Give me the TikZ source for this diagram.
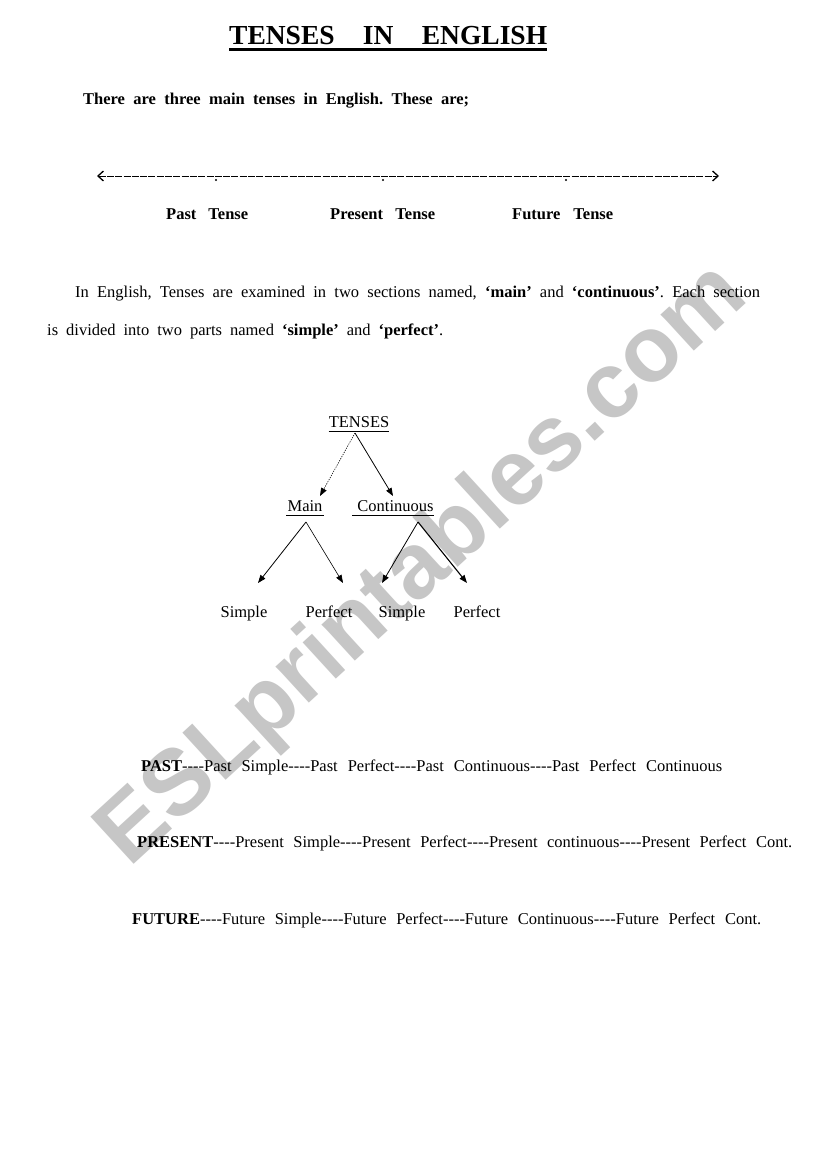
\documentclass[tikz,border=0pt]{standalone}
\usepackage{fontspec}
\setmainfont{Liberation Serif}[Ligatures=TeXOff]
\newfontfamily\wmfont{Liberation Sans}[Ligatures=TeXOff]
\usetikzlibrary{arrows.meta}
\definecolor{wmgray}{RGB}{198,198,198}
\newcommand\spreadto[2]{\makebox[#1][s]{#2}}
\frenchspacing
\tikzset{
  txt/.style={inner sep=0pt, anchor=base west, font=\fontsize{16.5}{20}\selectfont},
  btxt/.style={inner sep=0pt, anchor=base west, font=\fontsize{16.5}{20}\selectfont\bfseries},
  leaf/.style={inner sep=0pt, anchor=base, font=\fontsize{16.5}{20}\selectfont},
  uline/.style={line width=0.7pt},
  conn/.style={line width=0.8pt, -{Triangle[length=8pt,width=6pt]}},
  dotconn/.style={line width=0.6pt, dash pattern=on 1.2pt off 1.2pt, -{Triangle[length=8pt,width=6pt]}},
  timeline/.style={line width=0.9pt, dash pattern=on 7pt off 1.3pt,
    {Straight Barb[length=5.5pt,width=10pt,line width=1.3pt]}-{Straight Barb[length=5.5pt,width=10pt,line width=1.3pt]}},
  tdot/.style={circle, fill=black, inner sep=0pt, minimum size=2.4pt},
  wmark/.style={text=wmgray, inner sep=0pt, rotate=42.5,
    font=\wmfont\bfseries\fontsize{93}{93}\selectfont}
}
\begin{document}
\begin{tikzpicture}[x=1pt, y=-1pt]
\useasboundingbox (0,0) rectangle (821,1169);
\fill[white] (0,0) rectangle (821,1169);

% watermark
\node[wmark] (wm) at (424,566) {ESLprintables.com};

% title
\node[inner sep=0pt, anchor=base west, font=\fontsize{27.5}{32}\selectfont\bfseries] (title) at (229,45) {\spreadto{318pt}{TENSES\hspace{14pt} IN\hspace{14pt} ENGLISH}};
\draw[line width=2.6pt] (title.base west) ++(0,4.5) -- ([yshift=-4.5pt]title.base east);

\node[btxt] (intro) at (83,105) {\spreadto{386pt}{There are three main tenses in English. These are;}};

% timeline
\coordinate (tl) at (97,176);
\coordinate (tr) at (719,176);
\draw[timeline] (tl) -- (tr);
\node[tdot] (d1) at (216,180) {};
\node[tdot] (d2) at (383,180) {};
\node[tdot] (d3) at (566,180) {};

\node[btxt] (past) at (166,219) {\spreadto{82pt}{Past Tense}};
\node[btxt] (present) at (330,219) {\spreadto{105pt}{Present Tense}};
\node[btxt] (future) at (512,219) {\spreadto{101pt}{Future Tense}};

% paragraph
\node[txt] (p1) at (75,297) {\spreadto{685pt}{In English, Tenses are examined in two sections named, \textbf{‘main’} and \textbf{‘continuous’}. Each section}};
\node[txt] (p2) at (47,335) {\spreadto{396pt}{is divided into two parts named \textbf{‘simple’} and \textbf{‘perfect’}.}};

% tree
\node[leaf] (tenses) at (359,427) {TENSES};
\draw[uline] (tenses.base west) ++(0,4) -- ([yshift=-4pt]tenses.base east);
\node[leaf] (main) at (305,511) {Main};
\draw[uline] ([xshift=-1pt,yshift=-4pt]main.base west) -- ([xshift=1pt,yshift=-4pt]main.base east);
\node[leaf] (cont) at (395.5,511) {Continuous};
\draw[uline] ([xshift=-5pt,yshift=-4pt]cont.base west) -- ([yshift=-4pt]cont.base east);

\node[leaf] (s1) at (244,617) {Simple};
\node[leaf] (pf1) at (329,617) {Perfect};
\node[leaf] (s2) at (402,617) {Simple};
\node[leaf] (pf2) at (477,617) {Perfect};

\coordinate (tA) at (355,433);
\coordinate (mA) at (320,496);
\coordinate (cA) at (393,496);
\coordinate (mB) at (306,522);
\coordinate (cB) at (418,522);
\coordinate (s1A) at (258,583);
\coordinate (pf1A) at (343,583);
\coordinate (s2A) at (382,583);
\coordinate (pf2A) at (467,583);

\draw[dotconn] (tA) -- (mA);
\draw[conn] (tA) -- (cA);
\draw[conn] (mB) -- (s1A);
\draw[conn, line width=0.6pt] (mB) -- (pf1A);
\draw[conn] (cB) -- (s2A);
\draw[conn, line width=1.1pt] (cB) -- (pf2A);

% lists
\node[txt] (lpast) at (141,771) {\spreadto{581pt}{\textbf{PAST}----Past Simple----Past Perfect----Past Continuous----Past Perfect Continuous}};
\node[txt] (lpres) at (137,847) {\spreadto{655pt}{\textbf{PRESENT}----Present Simple----Present Perfect----Present continuous----Present Perfect Cont.}};
\node[txt] (lfut) at (132,924) {\spreadto{629pt}{\textbf{FUTURE}----Future Simple----Future Perfect----Future Continuous----Future Perfect Cont.}};
\end{tikzpicture}
\end{document}
